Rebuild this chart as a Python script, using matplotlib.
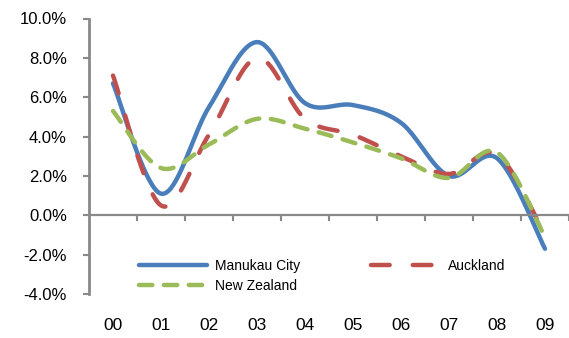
import numpy as np
import matplotlib
matplotlib.use('Agg')
import matplotlib.pyplot as plt
from matplotlib.transforms import blended_transform_factory

# Annual growth by year, percent
years = ['00', '01', '02', '03', '04', '05', '06', '07', '08', '09']
manukau = [6.7, 1.1, 5.5, 8.8, 5.7, 5.6, 4.7, 2.0, 2.9, -1.7]
auckland = [7.1, 0.5, 4.1, 8.0, 4.9, 4.1, 3.0, 2.1, 3.1, -1.0]
new_zealand = [5.3, 2.4, 3.6, 4.9, 4.4, 3.7, 2.9, 1.9, 3.2, -1.1]

y_ticks = [-4, -2, 0, 2, 4, 6, 8, 10]
y_tick_labels = ['-4.0%', '-2.0%', '0.0%', '2.0%', '4.0%', '6.0%', '8.0%', '10.0%']

plt.rcParams['font.family'] = ['Liberation Sans', 'DejaVu Sans']

AXIS_GREY = '#898989'


def smooth(values, n=40):
    """Bezier smoothing through each point, like a spreadsheet 'smoothed line'."""
    pts = np.column_stack([np.arange(len(values)) + 0.5, values])
    padded = np.vstack([pts[0], pts, pts[-1]])
    t = np.linspace(0, 1, n)[:, None]
    out = []
    for i in range(len(pts) - 1):
        p0, p1, p2, p3 = padded[i], padded[i + 1], padded[i + 2], padded[i + 3]
        c1 = p1 + (p2 - p0) / 6
        c2 = p2 - (p3 - p1) / 6
        seg = (1 - t)**3 * p1 + 3 * (1 - t)**2 * t * c1 + 3 * (1 - t) * t**2 * c2 + t**3 * p2
        out.append(seg if i == 0 else seg[1:])
    return np.vstack(out)


fig = plt.figure(figsize=(5.69, 3.38), dpi=100)
ax = fig.add_axes([89 / 569, 44 / 338, 480 / 569, 275.5 / 338])

series = [
    (manukau, 'Manukau City', '#4A7EBB', None),
    (auckland, 'Auckland', '#C0504D', (4.2, 5.2)),
    (new_zealand, 'New Zealand', '#9BBB59', (3.0, 2.6)),
]

lines = {}
for vals, label, color, dashes in series:
    curve = smooth(vals)
    line, = ax.plot(curve[:, 0], curve[:, 1], color=color, lw=3.2, label=label,
                    solid_capstyle='round', dash_capstyle='round', clip_on=False)
    if dashes is not None:
        line.set_dashes(dashes)
    lines[label] = line

# Axis limits and spines
ax.set_xlim(0, len(years))
ax.set_ylim(-4, 10)
for side in ['top', 'right']:
    ax.spines[side].set_visible(False)
ax.spines['left'].set_color(AXIS_GREY)
ax.spines['left'].set_linewidth(2)
ax.spines['bottom'].set_position(('data', 0))
ax.spines['bottom'].set_color(AXIS_GREY)
ax.spines['bottom'].set_linewidth(1.6)

ax.set_yticks(y_ticks)
ax.set_yticklabels(y_tick_labels, fontsize=12)
ax.tick_params(axis='y', direction='out', length=4, width=1.5, color=AXIS_GREY, pad=12)

ax.set_xticks(np.arange(1, len(years) + 1))
ax.set_xticklabels([])
ax.tick_params(axis='x', direction='out', length=4, width=1.5, color=AXIS_GREY)

# Category labels sit below the plot area
trans = blended_transform_factory(ax.transData, ax.transAxes)
for i, yr in enumerate(years):
    ax.text(i + 0.5, -0.113, yr, transform=trans, ha='center', va='center', fontsize=12.5)

# Legend filled row by row: Manukau City | Auckland, then New Zealand
order = ['Manukau City', 'New Zealand', 'Auckland']
ax.legend([lines[k] for k in order], order,
          loc='upper left', bbox_to_anchor=(139 / 569, 79 / 338), bbox_transform=fig.transFigure,
          ncol=2, frameon=False, fontsize=10, handlelength=4.9, handletextpad=0.6,
          columnspacing=5.1, labelspacing=0.45, borderpad=0, borderaxespad=0)

fig.savefig('out.png', dpi=100)
